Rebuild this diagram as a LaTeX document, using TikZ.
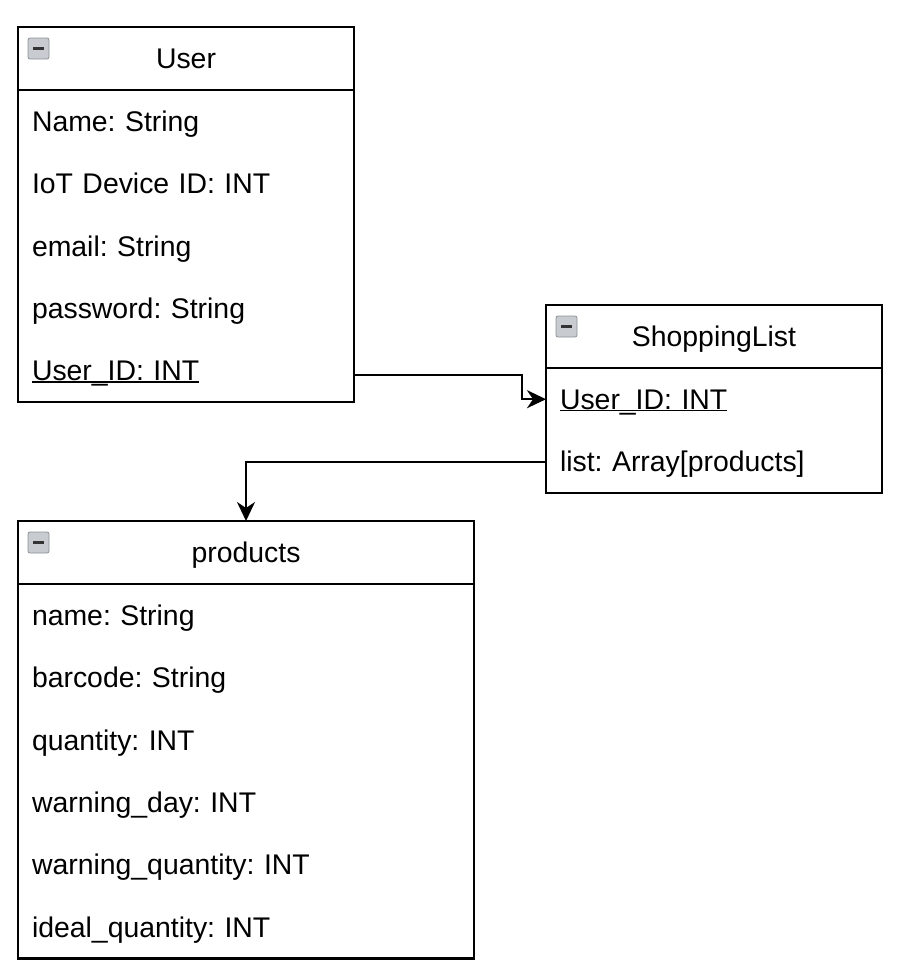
\documentclass[tikz,border=0pt]{standalone}
\usepackage{fontspec}
\setmainfont{Liberation Sans}
\frenchspacing
\usepackage{tikz}
\usetikzlibrary{arrows.meta, positioning}
\definecolor{IconGray}{HTML}{C8CCD0}
\definecolor{IconEdge}{HTML}{8A9096}
\newcommand{\keyline}[1]{\setbox0\hbox{#1}\rlap{\rule[-1.8pt]{\wd0}{1.3pt}}\box0}

\tikzset{
  txt/.style={font=\fontsize{28.4}{34}\selectfont, text height=20pt, text depth=0pt, outer sep=0pt},
  head/.style={txt, draw, line width=2.2pt, minimum height=63pt, inner xsep=0pt, anchor=north west},
  row/.style={txt, inner xsep=14pt, minimum height=62.4pt, align=left, anchor=north west},
  small/.style={row, text width=308pt},
  wide/.style={row, text width=428pt},
  frame/.style={draw, line width=2.2pt},
  conn/.style={-{Stealth[length=19pt, width=18pt, inset=6pt]}, line width=2.2pt},
  icon/.style={draw=IconEdge, fill=IconGray, rounded corners=2pt, line width=0.8pt}
}

\begin{document}
\begin{tikzpicture}[x=1pt, y=-1pt]
        % Parameters
        \def\SmallW{336}
        \def\WideW{456}
        \useasboundingbox (0,0) rectangle (900,972);

        % 1. User table
        \node[head, minimum width=\SmallW pt] (user) at (18,27) {User};
        \node[small] (user-name) at (user.south west) {Name: String};
        \node[small] (user-iot) at (user-name.south west) {IoT Device ID: INT};
        \node[small] (user-mail) at (user-iot.south west) {email: String};
        \node[small] (user-pass) at (user-mail.south west) {password: String};
        \node[small] (user-id) at (user-pass.south west) {\keyline{User\_ID: INT}};
        \draw[frame] (user.south west) rectangle (user-id.south east);

        % 2. ShoppingList table
        \node[head, minimum width=\SmallW pt] (list) at (546,305) {ShoppingList};
        \node[small] (list-id) at (list.south west) {\keyline{User\_ID: INT}};
        \node[small] (list-arr) at (list-id.south west) {list: Array[products]};
        \draw[frame] (list.south west) rectangle (list-arr.south east);

        % 3. products table
        \node[head, minimum width=\WideW pt] (prod) at (18,521) {products};
        \node[wide] (prod-name) at (prod.south west) {name: String};
        \node[wide] (prod-code) at (prod-name.south west) {barcode: String};
        \node[wide] (prod-qty) at (prod-code.south west) {quantity: INT};
        \node[wide] (prod-day) at (prod-qty.south west) {warning\_day: INT};
        \node[wide] (prod-warn) at (prod-day.south west) {warning\_quantity: INT};
        \node[wide] (prod-ideal) at (prod-warn.south west) {ideal\_quantity: INT};
        \draw[frame] (prod.south west) rectangle (prod-ideal.south east);

        % 4. Collapse icons
        \foreach \t in {user, list, prod} {
            \draw[icon] ([xshift=10pt, yshift=-11pt]\t.north west) rectangle ++(21,21);
            \draw[line width=2.5pt, black!80] ([xshift=15pt, yshift=-21.5pt]\t.north west) -- ++(11,0);
        }

        % 5. Connectors
        \draw[conn] ([yshift=-4pt]user-id.east) -- ++(168,0) |- (list-id.west);
        \draw[conn] (list-arr.west) -| (prod.north);

    \end{tikzpicture}
\end{document}
